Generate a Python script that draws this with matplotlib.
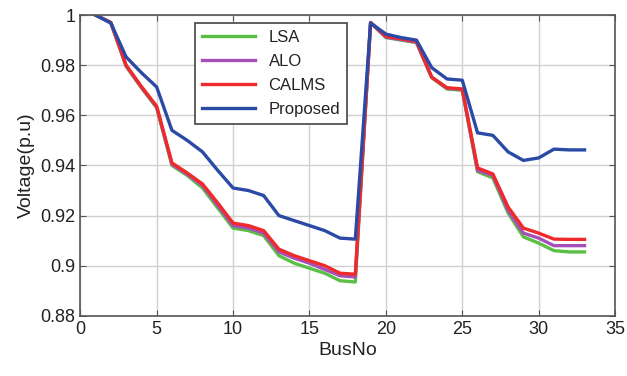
import matplotlib.pyplot as plt
import numpy as np

bus = np.arange(1, 34)

lsa = [1.0, 0.997, 0.9795, 0.971, 0.963, 0.940, 0.936, 0.931, 0.923, 0.915,
       0.914, 0.912, 0.904, 0.901, 0.899, 0.897, 0.894, 0.8935, 0.997, 0.991,
       0.990, 0.989, 0.975, 0.9705, 0.970, 0.9375, 0.935, 0.921, 0.9115, 0.909,
       0.906, 0.9055, 0.9055]
alo = [1.0, 0.997, 0.9798, 0.9712, 0.9633, 0.9405, 0.9365, 0.932, 0.924, 0.916,
       0.915, 0.913, 0.9055, 0.903, 0.901, 0.8985, 0.896, 0.8955, 0.997, 0.9912,
       0.9902, 0.9892, 0.9752, 0.9708, 0.9703, 0.938, 0.936, 0.922, 0.913, 0.911,
       0.908, 0.908, 0.908]
calms = [1.0, 0.997, 0.980, 0.9715, 0.9636, 0.941, 0.937, 0.9326, 0.925, 0.917,
         0.916, 0.914, 0.9066, 0.904, 0.902, 0.900, 0.897, 0.8966, 0.997, 0.9915,
         0.9905, 0.9895, 0.9752, 0.971, 0.9705, 0.939, 0.9366, 0.9234, 0.915, 0.913,
         0.9106, 0.9105, 0.9105]
proposed = [1.0, 0.9968, 0.9833, 0.977, 0.9713, 0.954, 0.950, 0.9454, 0.938, 0.931,
            0.930, 0.928, 0.920, 0.918, 0.916, 0.914, 0.911, 0.9106, 0.9968, 0.9924,
            0.991, 0.990, 0.979, 0.9745, 0.974, 0.953, 0.952, 0.9454, 0.942, 0.943,
            0.9465, 0.9462, 0.9462]

plt.rcParams['font.family'] = ['Liberation Sans', 'DejaVu Sans']

fig = plt.figure(figsize=(6.27, 3.76), dpi=100)
ax = fig.add_axes([0.128, 0.160, 0.853, 0.800])

ax.plot(bus, lsa, color='#5cbf45', lw=2.4, label='LSA')
ax.plot(bus, alo, color='#a64fb8', lw=2.4, label='ALO')
ax.plot(bus, calms, color='#f02a2a', lw=2.4, label='CALMS')
ax.plot(bus, proposed, color='#2a4aa6', lw=2.4, label='Proposed')

ax.set_xlim(0, 35)
ax.set_ylim(0.88, 1.0)
ax.set_xticks(np.arange(0, 36, 5))
ax.set_yticks([0.88, 0.9, 0.92, 0.94, 0.96, 0.98, 1.0])
ax.set_yticklabels(['0.88', '0.9', '0.92', '0.94', '0.96', '0.98', '1'])
ax.grid(True, color='#d0d0d0', lw=1)
ax.tick_params(direction='in', labelsize=13, color='#555555', labelcolor='#222222',
               length=4, top=True, right=True)
for s in ax.spines.values():
    s.set_color('#555555')
    s.set_linewidth(1.2)

ax.set_xlabel('BusNo', fontsize=14, color='#222222', labelpad=3)
ax.set_ylabel('Voltage(p.u)', fontsize=14, color='#222222', labelpad=4)

leg = ax.legend(loc='upper left', bbox_to_anchor=(0.215, 0.973), borderaxespad=0,
                fontsize=12, fancybox=False, edgecolor='#444444', framealpha=1,
                handlelength=3.2, borderpad=0.4, labelspacing=0.55)
leg.get_frame().set_linewidth(1.2)
for t in leg.get_texts():
    t.set_color('#222222')

fig.savefig('out.png', dpi=100)
